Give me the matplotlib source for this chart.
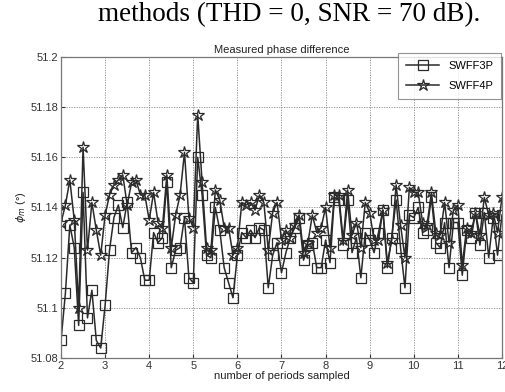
import numpy as np
import matplotlib
matplotlib.use('Agg')
import matplotlib.pyplot as plt
from matplotlib.ticker import FuncFormatter

# periods sampled, 2 to 12 in steps of 0.1
periods = np.round(np.arange(20, 121) / 10.0, 1)

swff3p = [51.087, 51.106, 51.133, 51.124, 51.093, 51.146, 51.096, 51.107, 51.087, 51.084,
          51.101, 51.123, 51.136, 51.141, 51.132, 51.142, 51.122, 51.124, 51.120, 51.111,
          51.111, 51.130, 51.126, 51.128, 51.150, 51.116, 51.123, 51.124, 51.136, 51.112,
          51.110, 51.160, 51.145, 51.121, 51.120, 51.140, 51.131, 51.116, 51.110, 51.104,
          51.121, 51.130, 51.128, 51.131, 51.128, 51.132, 51.131, 51.108, 51.121, 51.126,
          51.114, 51.122, 51.128, 51.132, 51.136, 51.119, 51.125, 51.126, 51.116, 51.116,
          51.127, 51.118, 51.144, 51.143, 51.125, 51.143, 51.122, 51.128, 51.112, 51.130,
          51.127, 51.122, 51.130, 51.139, 51.116, 51.128, 51.143, 51.124, 51.108, 51.137,
          51.136, 51.140, 51.130, 51.131, 51.144, 51.126, 51.124, 51.134, 51.116, 51.134,
          51.134, 51.113, 51.131, 51.128, 51.138, 51.125, 51.138, 51.120, 51.136, 51.121,
          51.137]

swff4p = [51.134, 51.141, 51.151, 51.135, 51.100, 51.164, 51.123, 51.142, 51.131, 51.121,
          51.137, 51.145, 51.149, 51.151, 51.153, 51.141, 51.150, 51.151, 51.145, 51.145,
          51.135, 51.146, 51.134, 51.132, 51.153, 51.124, 51.137, 51.145, 51.162, 51.136,
          51.132, 51.177, 51.150, 51.124, 51.123, 51.147, 51.143, 51.132, 51.132, 51.121,
          51.124, 51.142, 51.141, 51.142, 51.139, 51.145, 51.142, 51.123, 51.138, 51.142,
          51.127, 51.131, 51.128, 51.133, 51.137, 51.122, 51.126, 51.137, 51.130, 51.132,
          51.140, 51.124, 51.145, 51.145, 51.127, 51.147, 51.129, 51.134, 51.124, 51.142,
          51.138, 51.127, 51.127, 51.139, 51.118, 51.127, 51.149, 51.133, 51.120, 51.148,
          51.146, 51.146, 51.134, 51.133, 51.146, 51.130, 51.129, 51.142, 51.126, 51.139,
          51.141, 51.117, 51.132, 51.130, 51.138, 51.129, 51.144, 51.137, 51.138, 51.130,
          51.144]

xticks = list(range(2, 13))
yticks = [51.08, 51.1, 51.12, 51.14, 51.16, 51.18, 51.2]

plt.rcParams['font.family'] = ['Liberation Sans', 'DejaVu Sans']

fig = plt.figure(figsize=(5.06, 3.92), dpi=100)
ax = fig.add_axes([0.1206, 0.0867, 0.8714, 0.768])

line_col = '#2a2a2a'
ax.plot(periods, swff3p, color=line_col, lw=1.1, marker='s', ms=6.5,
        mfc='none', mec=line_col, mew=0.9, label='SWFF3P')
ax.plot(periods, swff4p, color=line_col, lw=1.1, marker='*', ms=9,
        mfc='none', mec=line_col, mew=0.9, label='SWFF4P')

ax.set_xlim(2, 12)
ax.set_ylim(51.08, 51.2)
ax.set_xticks(xticks)
ax.set_yticks(yticks)
ax.yaxis.set_major_formatter(FuncFormatter(lambda v, p: '%g' % round(v, 3)))
ax.tick_params(labelsize=8, direction='in', length=3, colors='#333333', pad=2)
ax.grid(True, linestyle=(0, (1.5, 1.5)), color='#888888', lw=0.6)
for s in ax.spines.values():
    s.set_color('#777777')
    s.set_linewidth(0.9)

ax.set_title('Measured phase difference', fontsize=8, color='#222222', pad=3)
ax.set_xlabel('number of periods sampled', fontsize=8, color='#222222', labelpad=0)
ax.set_ylabel(r'$\phi_m$ (°)', fontsize=8, color='#222222', labelpad=2)

leg = ax.legend(loc='upper right', bbox_to_anchor=(0.998, 1.012), fontsize=8,
                frameon=True, fancybox=False, borderaxespad=0.0, handlelength=3.0,
                borderpad=0.7, labelspacing=0.9)
leg.get_frame().set_edgecolor('#777777')
leg.get_frame().set_linewidth(0.8)

fig.text(0.572, 0.962, 'methods (THD = 0, SNR = 70 dB).', ha='center', va='center',
         fontsize=19.5, family='Liberation Serif', color='black')

fig.savefig('out.png', dpi=100)
